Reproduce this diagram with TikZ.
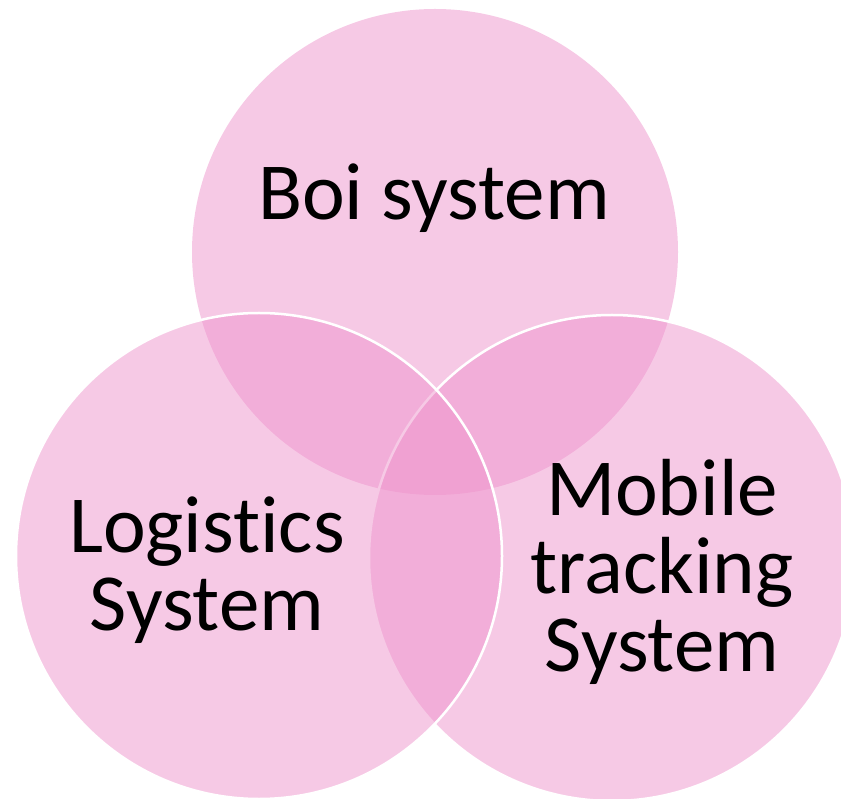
\documentclass[tikz,border=0pt]{standalone}
\usepackage{fontspec}
\setmainfont{Carlito}[Ligatures={NoCommon}]
\definecolor{vennpink}{RGB}{238,148,204}
\tikzset{
  venn/.style={fill=vennpink, fill opacity=0.5, draw opacity=1, line width=2.5pt},
  vlabel/.style={inner sep=0pt, align=center, text=black, font=\fontsize{81}{78}\selectfont}
}
\begin{document}
\begin{tikzpicture}[x=1pt,y=-1pt]
\useasboundingbox (0,0) rectangle (841,799);
\clip (0,0) rectangle (841,799);
\path[venn, draw=none] (435,252) circle (243);
\path[venn, draw=white] (612,558) circle (243);
\path[venn, draw=white] (259,556) circle (243);
\node[vlabel, anchor=base] (boi) at (434,220) {Boi system};
\node[vlabel] (log) at (207,570) {Logistics\\System};
\node[vlabel] (mob) at (662,572) {Mobile\\tracking\\System};
\end{tikzpicture}
\end{document}
